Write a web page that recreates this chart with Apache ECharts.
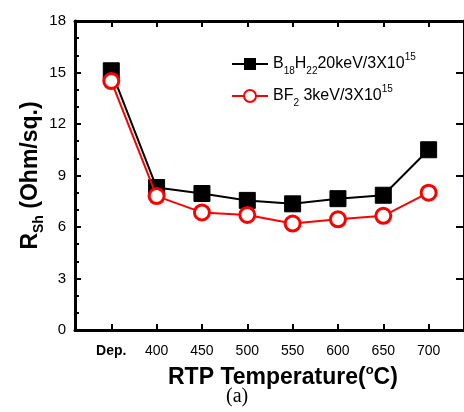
<!DOCTYPE html>
<html>
<head>
<meta charset="utf-8">
<script src="https://cdn.jsdelivr.net/npm/echarts@6/dist/echarts.min.js"></script>
<style>
  html, body { margin: 0; padding: 0; background: #fff; }
  #chart { width: 464px; height: 412px; }
</style>
</head>
<body>
<div id="chart"></div>
<script>
// categories on the x axis (placed at positions 1..8)
const categories = ['Dep.', '400', '450', '500', '550', '600', '650', '700']
const b18h22 = [15.1, 8.3, 7.95, 7.55, 7.35, 7.65, 7.85, 10.5]
const bf2 = [14.5, 7.8, 6.85, 6.7, 6.2, 6.45, 6.65, 8.0]
const yTicks = [0, 3, 6, 9, 12, 15, 18]

const xPos = categories.map((c, i) => i + 1)
const toPairs = vals => vals.map((v, i) => [xPos[i], v])

const font = '"Liberation Sans", Arial, sans-serif'
const subStyle = { fontSize: 10, fontFamily: font, verticalAlign: 'bottom', lineHeight: 24 }
const supStyle = { fontSize: 10, fontFamily: font, verticalAlign: 'top', lineHeight: 24 }

const chart = echarts.init(document.getElementById('chart'), null, { renderer: 'canvas' })

const axisLine = { show: true, onZero: false, lineStyle: { color: '#000', width: 3 } }
const tickStyle = { width: 2, color: '#000' }

chart.setOption({
  backgroundColor: '#fff',
  animation: false,
  grid: { left: 75, top: 21, width: 395, height: 309, containLabel: false },
  legend: {
    left: 226,
    top: 47,
    orient: 'vertical',
    itemWidth: 36,
    itemHeight: 15,
    itemGap: 8,
    textStyle: {
      fontFamily: font, fontSize: 16, color: '#000', lineHeight: 24,
      rich: { n: { fontSize: 16, fontFamily: font, lineHeight: 24 }, sub: subStyle, sup: supStyle }
    },
    formatter: name => name === 'b18'
      ? '{n|B}{sub|18}{n|H}{sub|22}{n|20keV/3X10}{sup|15}'
      : '{n|BF}{sub|2}{n| 3keV/3X10}{sup|15}',
    data: ['b18', 'bf2']
  },
  xAxis: [{
    type: 'value',
    min: 0.2,
    max: 8.78,
    position: 'bottom',
    axisLine: axisLine,
    splitLine: { show: false },
    axisTick: { show: true, inside: true, length: 6, lineStyle: tickStyle, customValues: xPos },
    axisLabel: {
      customValues: xPos,
      margin: 14,
      fontFamily: font,
      fontSize: 14,
      color: '#000',
      formatter: v => {
        const c = categories[Math.round(v) - 1]
        return c === 'Dep.' ? '{b|Dep.}' : c
      },
      rich: { b: { fontFamily: font, fontSize: 14, fontWeight: 'bold', color: '#000' } }
    }
  }, {
    type: 'value',
    min: 0.2,
    max: 8.78,
    position: 'top',
    axisLine: axisLine,
    splitLine: { show: false },
    axisTick: { show: true, inside: true, length: 6, lineStyle: tickStyle, customValues: xPos },
    axisLabel: { show: false }
  }],
  yAxis: [{
    type: 'value',
    min: 0,
    max: 18,
    interval: 3,
    position: 'left',
    axisLine: axisLine,
    splitLine: { show: false },
    axisTick: { show: true, inside: true, length: 6, lineStyle: tickStyle },
    minorTick: { show: true, splitNumber: 3, length: 4, lineStyle: tickStyle },
    axisLabel: { margin: 9, fontFamily: font, fontSize: 15, color: '#000', formatter: v => yTicks.includes(v) ? String(v) : '' },
    name: '{n|R}{sub|Sh}{n| (Ohm/sq.)}',
    nameLocation: 'middle',
    nameGap: 29,
    nameMoveOverlap: false,
    nameRotate: 90,
    nameTextStyle: {
      rich: {
        n: { fontFamily: font, fontSize: 23, fontWeight: 'bold', color: '#000', lineHeight: 30 },
        sub: { fontFamily: font, fontSize: 14, fontWeight: 'bold', color: '#000', verticalAlign: 'bottom', lineHeight: 30 }
      }
    }
  }, {
    type: 'value',
    min: 0,
    max: 18,
    interval: 3,
    position: 'right',
    axisLine: axisLine,
    splitLine: { show: false },
    axisTick: { show: true, inside: true, length: 8, lineStyle: tickStyle },
    axisLabel: { show: false }
  }],
  graphic: [{
    type: 'text',
    left: 168,
    top: 364,
    style: {
      text: '{n|RTP Temperature(}{s|o}{n|C)}',
      rich: {
        n: { fontFamily: font, fontSize: 23, fontWeight: 'bold', fill: '#000', lineHeight: 28 },
        s: { fontFamily: font, fontSize: 13, fontWeight: 'bold', fill: '#000', verticalAlign: 'top', lineHeight: 28 }
      }
    }
  }, {
    type: 'text',
    left: 226,
    top: 387,
    style: { text: '(a)', fontFamily: '"Liberation Serif", "Times New Roman", serif', fontSize: 20, fill: '#000' }
  }],
  series: [{
    name: 'b18',
    type: 'line',
    data: toPairs(b18h22),
    symbol: 'rect',
    symbolSize: 16,
    itemStyle: { color: '#000', borderColor: '#000' },
    lineStyle: { color: '#000', width: 2 },
    z: 2
  }, {
    name: 'bf2',
    type: 'line',
    data: toPairs(bf2),
    symbol: 'circle',
    symbolSize: 15,
    itemStyle: { color: '#fff', borderColor: '#f00', borderWidth: 3 },
    lineStyle: { color: '#f00', width: 2 },
    z: 3
  }]
})
</script>
</body>
</html>
